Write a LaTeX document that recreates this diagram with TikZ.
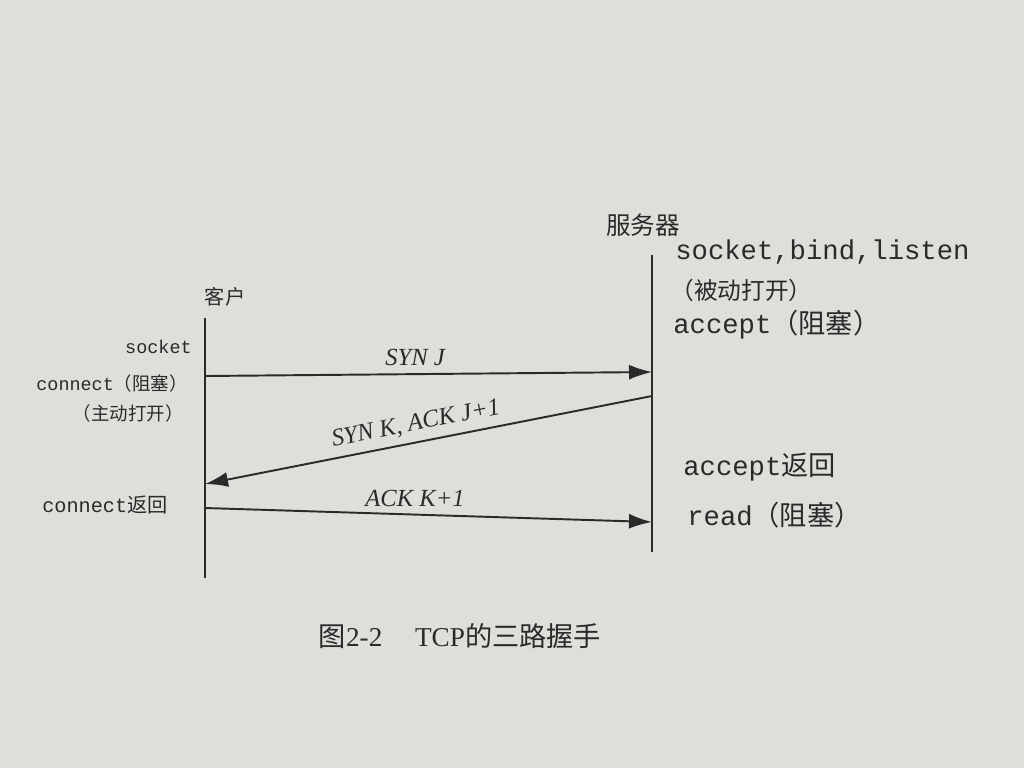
\documentclass[tikz,border=0pt]{standalone}
\usepackage{fontspec}
\setmonofont{Liberation Mono}
\newfontfamily\cjk{Noto Sans CJK SC}
\newfontfamily\capfont{Liberation Serif}
\usetikzlibrary{arrows.meta}
\definecolor{paper}{RGB}{224,222,218}
\definecolor{inkgray}{RGB}{42,42,42}

\begin{document}
\begin{tikzpicture}[x=0.02cm, y=-0.02cm,
  ink/.style={draw=inkgray, line width=1.1pt},
  msg/.style={ink, -{Latex[length=4.6mm, width=3mm]}},
  lbl/.style={inner sep=0pt, text=inkgray},
  head/.style={lbl, font=\cjk},
  lcode/.style={lbl, font=\fontsize{10.5}{12}\selectfont\ttfamily},
  rcode/.style={lbl, font=\fontsize{15.5}{17}\selectfont\ttfamily},
  seg/.style={inner sep=4pt, text=inkgray, font=\fontsize{14}{16}\selectfont\capfont\itshape}]

\fill[paper] (0,0) rectangle (1024,768);
\useasboundingbox (0,0) rectangle (1024,768);

\node[head, font=\fontsize{11.5}{13}\selectfont\cjk] (client) at (225,297) {客户};
\node[head, font=\fontsize{14}{16}\selectfont\cjk] (server) at (643,225) {服务器};

\coordinate (c0) at (205,318);
\coordinate (c1) at (205,578);
\coordinate (s0) at (652,255);
\coordinate (s1) at (652,552);
\draw[ink] (c0) -- (c1);
\draw[ink] (s0) -- (s1);

\coordinate (synJ0) at (205,376);
\coordinate (synJ1) at (652,372);
\coordinate (synK0) at (652,396);
\coordinate (synK1) at (205,484);
\coordinate (ackK0) at (205,508);
\coordinate (ackK1) at (652,522);

\draw[msg] (synJ0) -- node[seg, above, pos=0.47] {SYN J} (synJ1);
\draw[msg] (synK0) -- node[seg, above, sloped, pos=0.52] {SYN K, ACK J+1} (synK1);
\draw[msg] (ackK0) -- node[seg, above, pos=0.47] {ACK K+1} (ackK1);

\node[lcode, anchor=east] (csock) at (192,347) {socket};
\node[lcode, anchor=east] (cconn) at (188,383) {connect{\cjk （阻塞）}};
\node[lcode, anchor=east] (cact) at (184,413) {\cjk （主动打开）};
\node[lcode, anchor=east, font=\fontsize{11.5}{13}\selectfont\ttfamily] (cret) at (168,505) {connect{\cjk 返回}};

\node[rcode, anchor=west] (ssock) at (675,252) {socket,bind,listen};
\node[rcode, anchor=west, font=\fontsize{13.5}{15}\selectfont\cjk] (spas) at (670,290) {（被动打开）};
\node[rcode, anchor=west] (sacc) at (673,325) {accept{\cjk （阻塞）}};
\node[rcode, anchor=west] (sret) at (683,467) {accept{\cjk 返回}};
\node[rcode, anchor=west] (sread) at (687,515) {read{\cjk （阻塞）}};

\node[lbl, font=\fontsize{15.5}{17}\selectfont\capfont] (cap) at (460,636)
  {{\cjk 图}2-2\hspace{1.2em}TCP{\cjk 的三路握手}};

\end{tikzpicture}
\end{document}
